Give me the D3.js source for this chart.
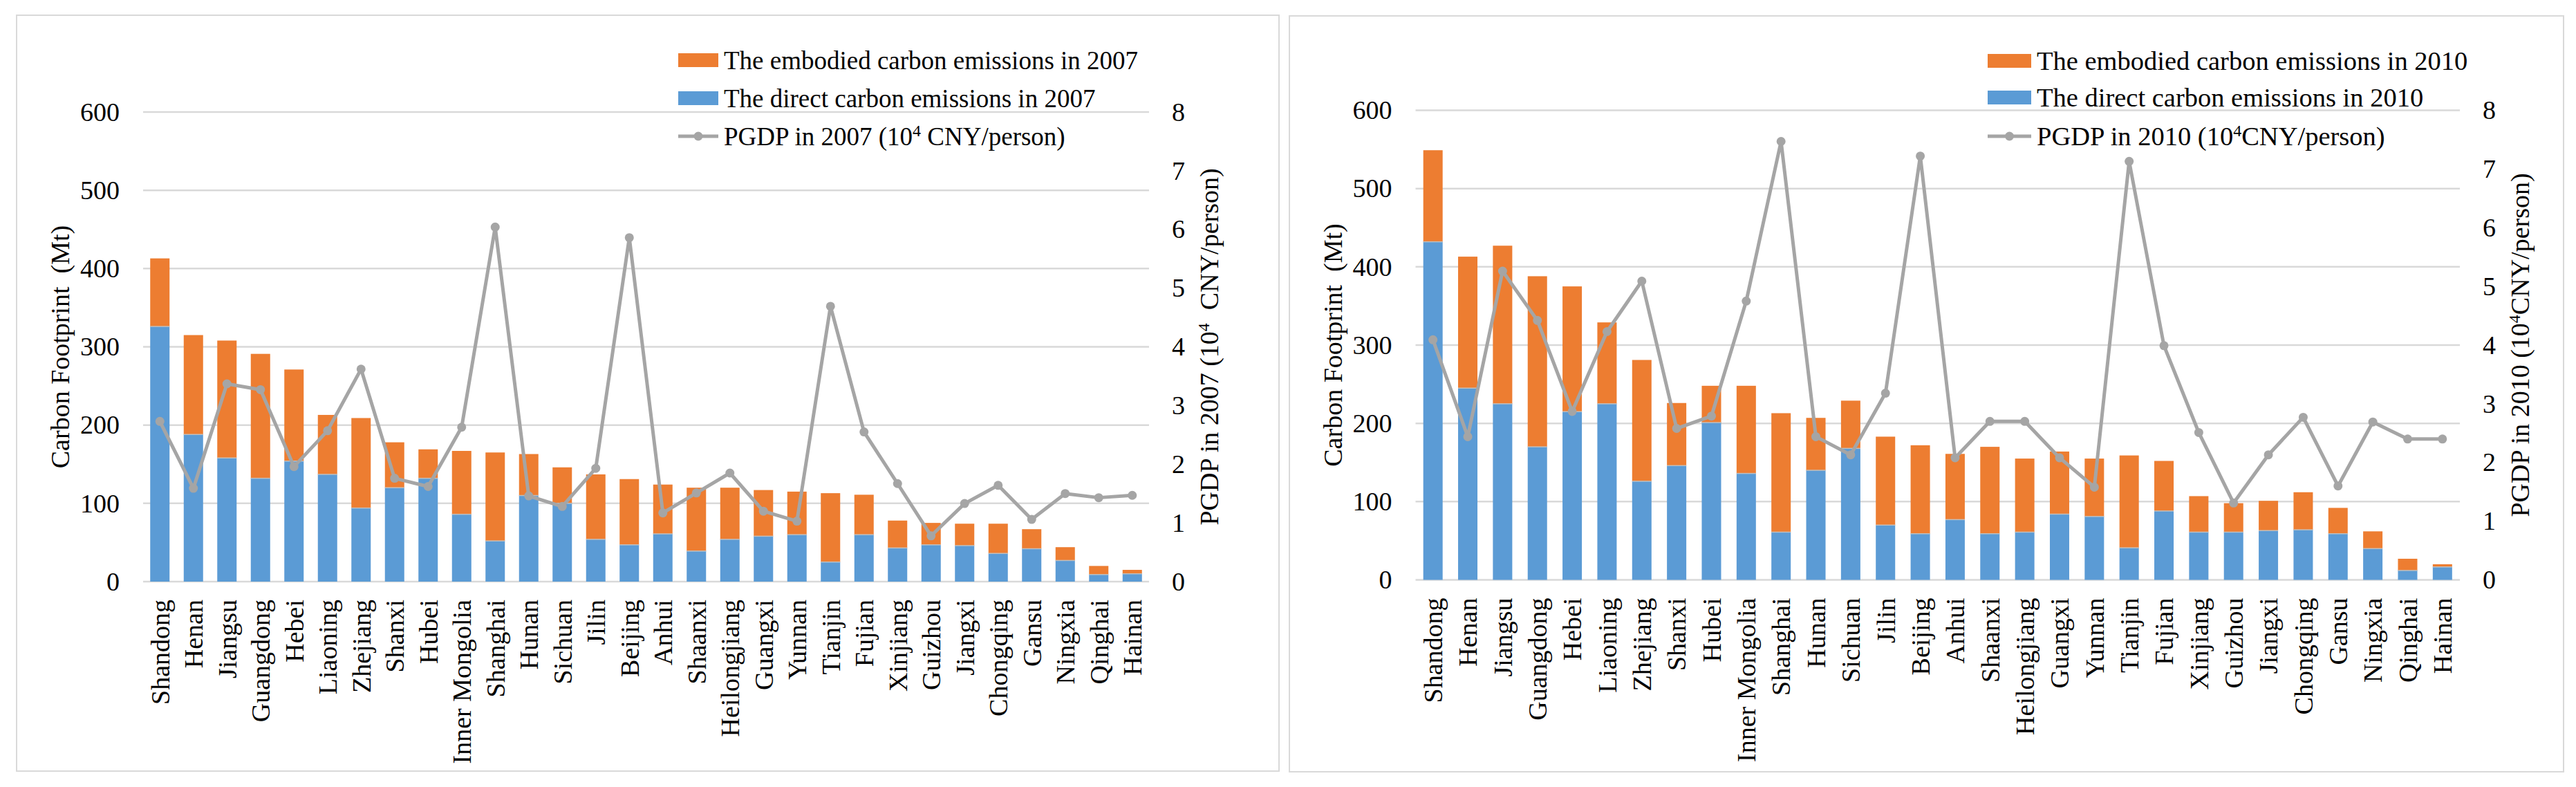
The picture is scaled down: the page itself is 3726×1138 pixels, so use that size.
<!DOCTYPE html>
<html>
<head>
<meta charset="utf-8">
<script src="https://cdn.jsdelivr.net/npm/d3@7/dist/d3.min.js"></script>
<style>
  html, body { margin: 0; padding: 0; background: #ffffff; }
  svg { display: block; }
  text { font-family: "Liberation Serif", "Times New Roman", serif; fill: #000; }
</style>
</head>
<body>
<svg id="chart" width="3726" height="1138"></svg>
<script>
// ---------------- DATA ----------------
const provinces = ["Shandong","Henan","Jiangsu","Guangdong","Hebei","Liaoning","Zhejiang","Shanxi","Hubei","Inner Mongolia",
  "Shanghai","Hunan","Sichuan","Jilin","Beijing","Anhui","Shaanxi","Heilongjiang","Guangxi","Yunnan",
  "Tianjin","Fujian","Xinjiang","Guizhou","Jiangxi","Chongqing","Gansu","Ningxia","Qinghai","Hainan"];

const direct2007   = [326,188,158,132,154,137,94,120,132,86, 52,110,100,54,47,61,39,54,58,60, 25,60,43,47,46,36,42,27,9,10];
const embodied2007 = [87,127,150,159,117,76,115,58,37,81, 113,53,46,83,84,63,81,66,59,55, 88,51,35,28,28,38,25,17,11,5];
const pgdp2007     = [2.73,1.59,3.37,3.27,1.96,2.57,3.62,1.76,1.62,2.63, 6.04,1.46,1.28,1.93,5.86,1.17,1.51,1.85,1.20,1.03, 4.69,2.55,1.67,0.78,1.33,1.64,1.06,1.50,1.43,1.47];

const direct2010   = [432,245,225,170,215,225,126,146,201,136, 61,140,168,70,59,77,59,61,84,81, 41,88,61,61,63,64,59,40,12,16.5];
const embodied2010 = [117,168,202,218,160,104,155,80,47,112, 152,67,61,113,113,84,111,94,80,74, 118,64,46,37,38,48,33,22,15,3.5];
const pgdp2010     = [4.09,2.44,5.26,4.42,2.87,4.23,5.09,2.58,2.79,4.75, 7.47,2.44,2.13,3.18,7.22,2.08,2.70,2.70,2.08,1.58, 7.13,3.99,2.51,1.31,2.13,2.77,1.60,2.69,2.40,2.40];

const leftTicks  = [0,100,200,300,400,500,600];
const rightTicks = [0,1,2,3,4,5,6,7,8];

const colors = { direct: "#5B9BD5", embodied: "#ED7D31", line: "#A5A5A5", grid: "#D9D9D9", border: "#D9D9D9" };

// ---------------- LAYOUT ----------------
const panels = [
  { year: "2007", direct: direct2007, embodied: embodied2007, pgdp: pgdp2007,
    box: [24, 22, 1850, 1115], left: 207, right: 1662, top: 162, bottom: 841,
    legendX: 981, legendTextX: 1047, legendFont: 37, legendY: [87, 142, 197],
    pgdpSpace: " " },
  { year: "2010", direct: direct2010, embodied: embodied2010, pgdp: pgdp2010,
    box: [1865, 23, 3708, 1116], left: 2047.5, right: 3558, top: 159.5, bottom: 838.5,
    legendX: 2875, legendTextX: 2946, legendFont: 38.5, legendY: [88, 141, 197],
    pgdpSpace: "" }
];

const svg = d3.select("#chart");
const FS = 38;

panels.forEach(p => {
  const g = svg.append("g");

  // panel border
  g.append("rect")
    .attr("x", p.box[0]).attr("y", p.box[1])
    .attr("width", p.box[2] - p.box[0]).attr("height", p.box[3] - p.box[1])
    .attr("fill", "#fff").attr("stroke", colors.border).attr("stroke-width", 2);

  const x = d3.scaleBand().domain(provinces).range([p.left, p.right]).paddingInner(0).paddingOuter(0);
  const y = d3.scaleLinear().domain([0, 600]).range([p.bottom, p.top]);
  const y2 = d3.scaleLinear().domain([0, 8]).range([p.bottom, p.top]);
  const bw = 28;

  // gridlines
  g.append("g").selectAll("line").data(leftTicks).join("line")
    .attr("x1", p.left).attr("x2", p.right)
    .attr("y1", d => y(d)).attr("y2", d => y(d))
    .attr("stroke", colors.grid).attr("stroke-width", 2.5);

  // left axis labels
  const yAxis = d3.axisLeft(y).tickValues(leftTicks).tickSize(0).tickPadding(34);
  const ga = g.append("g").attr("transform", `translate(${p.left},0)`).call(yAxis);
  ga.select(".domain").remove();
  ga.selectAll("text").style("font-family", '"Liberation Serif", serif').style("font-size", FS + "px").attr("fill", "#000");

  // right axis labels
  const yAxisR = d3.axisRight(y2).tickValues(rightTicks).tickSize(0).tickPadding(33);
  const gr = g.append("g").attr("transform", `translate(${p.right},0)`).call(yAxisR);
  gr.select(".domain").remove();
  gr.selectAll("text").style("font-family", '"Liberation Serif", serif').style("font-size", FS + "px").attr("fill", "#000");

  // stacked bars
  const rows = provinces.map((name, i) => ({ name, d: p.direct[i], e: p.embodied[i], v: p.pgdp[i] }));
  const cx = n => x(n) + x.bandwidth() / 2;

  g.append("g").selectAll("rect").data(rows).join("rect")
    .attr("x", r => cx(r.name) - bw / 2).attr("width", bw)
    .attr("y", r => y(r.d)).attr("height", r => y(0) - y(r.d))
    .attr("fill", colors.direct);
  g.append("g").selectAll("rect").data(rows).join("rect")
    .attr("x", r => cx(r.name) - bw / 2).attr("width", bw)
    .attr("y", r => y(r.d + r.e)).attr("height", r => y(r.d) - y(r.d + r.e))
    .attr("fill", colors.embodied);
  // thin separator between segments
  g.append("g").selectAll("line").data(rows).join("line")
    .attr("x1", r => cx(r.name) - bw / 2).attr("x2", r => cx(r.name) + bw / 2)
    .attr("y1", r => y(r.d)).attr("y2", r => y(r.d))
    .attr("stroke", "#BFBFBF").attr("stroke-width", 1.5);

  // PGDP line
  const line = d3.line().x(r => cx(r.name)).y(r => y2(r.v));
  g.append("path").datum(rows).attr("d", line)
    .attr("fill", "none").attr("stroke", colors.line).attr("stroke-width", 5).attr("stroke-linejoin", "round");
  g.append("g").selectAll("circle").data(rows).join("circle")
    .attr("cx", r => cx(r.name)).attr("cy", r => y2(r.v)).attr("r", 6.5)
    .attr("fill", colors.line);

  // category labels
  g.append("g").selectAll("text").data(provinces).join("text")
    .attr("transform", n => `translate(${cx(n)},${p.bottom + 26}) rotate(-90)`)
    .attr("text-anchor", "end").attr("dy", "0.35em")
    .style("font-size", FS + "px")
    .text(n => n);

  // left axis title
  const midY = (p.top + p.bottom) / 2;
  g.append("text")
    .attr("transform", `translate(${p.left - 120},${midY}) rotate(-90)`)
    .attr("text-anchor", "middle").attr("dy", "0.35em")
    .style("font-size", FS + "px")
    .text("Carbon Footprint\u00a0\u00a0(Mt)");

  // right axis title
  const rt = g.append("text")
    .attr("transform", `translate(${p.right + 87},${midY}) rotate(-90)`)
    .attr("text-anchor", "middle").attr("dy", "0.35em")
    .style("font-size", FS + "px");
  rt.append("tspan").text(`PGDP in ${p.year} (10`);
  rt.append("tspan").attr("baseline-shift", "super").style("font-size", "24px").text("4");
  rt.append("tspan").text((p.pgdpSpace ? "\u00a0\u00a0" : "") + "CNY/person)");

  // legend
  const lg = g.append("g");
  const sw = p.legendTextX - p.legendX - 8;
  lg.append("rect").attr("x", p.legendX).attr("y", p.legendY[0] - 10).attr("width", sw).attr("height", 20).attr("fill", colors.embodied);
  lg.append("rect").attr("x", p.legendX).attr("y", p.legendY[1] - 10).attr("width", sw).attr("height", 20).attr("fill", colors.direct);
  lg.append("line").attr("x1", p.legendX).attr("x2", p.legendX + sw)
    .attr("y1", p.legendY[2]).attr("y2", p.legendY[2])
    .attr("stroke", colors.line).attr("stroke-width", 5);
  lg.append("circle").attr("cx", p.legendX + sw / 2).attr("cy", p.legendY[2]).attr("r", 6.5).attr("fill", colors.line);

  const ltexts = [`The embodied carbon emissions in ${p.year}`, `The direct carbon emissions in ${p.year}`];
  ltexts.forEach((t, i) => {
    lg.append("text").attr("x", p.legendTextX).attr("y", p.legendY[i]).attr("dy", "0.35em")
      .style("font-size", p.legendFont + "px").text(t);
  });
  const lt = lg.append("text").attr("x", p.legendTextX).attr("y", p.legendY[2]).attr("dy", "0.35em")
    .style("font-size", p.legendFont + "px");
  lt.append("tspan").text(`PGDP in ${p.year} (10`);
  lt.append("tspan").attr("baseline-shift", "super").style("font-size", "24px").text("4");
  lt.append("tspan").text(p.pgdpSpace + "CNY/person)");
});
</script>
</body>
</html>
